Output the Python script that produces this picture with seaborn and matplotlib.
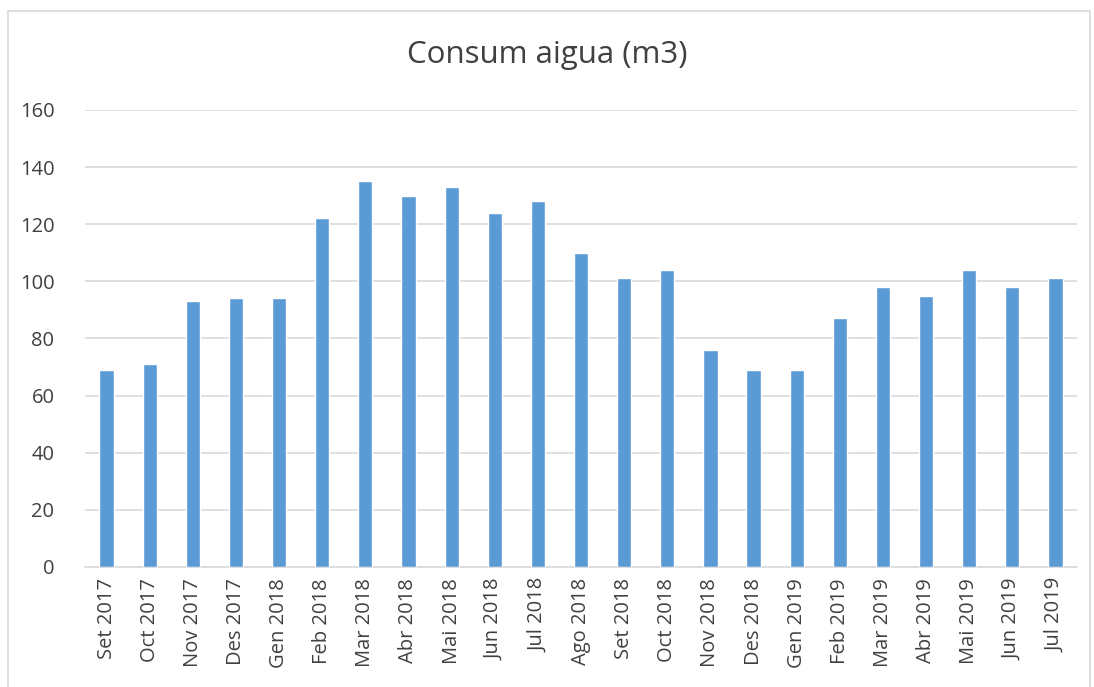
import matplotlib
matplotlib.use('Agg')
import matplotlib.pyplot as plt
import seaborn as sns
import pandas as pd
from matplotlib.patches import Rectangle

months = ['Set 2017', 'Oct 2017', 'Nov 2017', 'Des 2017', 'Gen 2018', 'Feb 2018',
          'Mar 2018', 'Abr 2018', 'Mai 2018', 'Jun 2018', 'Jul 2018', 'Ago 2018',
          'Set 2018', 'Oct 2018', 'Nov 2018', 'Des 2018', 'Gen 2019', 'Feb 2019',
          'Mar 2019', 'Abr 2019', 'Mai 2019', 'Jun 2019', 'Jul 2019']
consum = [69, 71, 93, 94, 94, 122, 135, 130, 133, 124, 128, 110,
          101, 104, 76, 69, 69, 87, 98, 95, 104, 98, 101]
yticks = [0, 20, 40, 60, 80, 100, 120, 140, 160]

TEXT = '#404040'
GRID = '#D9D9D9'

sns.set_style('white')
plt.rcParams['font.family'] = ['Open Sans', 'DejaVu Sans']

df = pd.DataFrame({'mes': months, 'consum': consum})

fig = plt.figure(figsize=(10.94, 6.87), dpi=100)
ax = fig.add_axes([0.0777, 0.1747, 0.9068, 0.6653])

sns.barplot(data=df, x='mes', y='consum', color='#5B9BD5', saturation=1,
            width=0.33, ax=ax, zorder=3)

ax.set_ylim(0, 160)
ax.set_xlim(-0.5, len(months) - 0.5)
ax.set_yticks(yticks)
ax.yaxis.grid(True, color=GRID, linewidth=1.2, zorder=0)
ax.set_axisbelow(True)
for side in ['top', 'right', 'left']:
    ax.spines[side].set_visible(False)
ax.spines['bottom'].set_color(GRID)
ax.spines['bottom'].set_linewidth(1.2)
ax.tick_params(axis='both', length=0, labelsize=14.5, colors=TEXT, pad=8)
ax.tick_params(axis='y', pad=22)
plt.setp(ax.get_xticklabels(), rotation=90)
ax.set_xlabel('')
ax.set_ylabel('')

fig.text(0.5, 0.92, 'Consum aigua (m3)', ha='center', va='center',
         fontsize=22.5, color=TEXT)

fig.patches.append(Rectangle((0.0075, -0.01), 0.989, 0.994, transform=fig.transFigure,
                             fill=False, edgecolor=GRID, linewidth=1.2))

fig.savefig('out.png', dpi=100)
